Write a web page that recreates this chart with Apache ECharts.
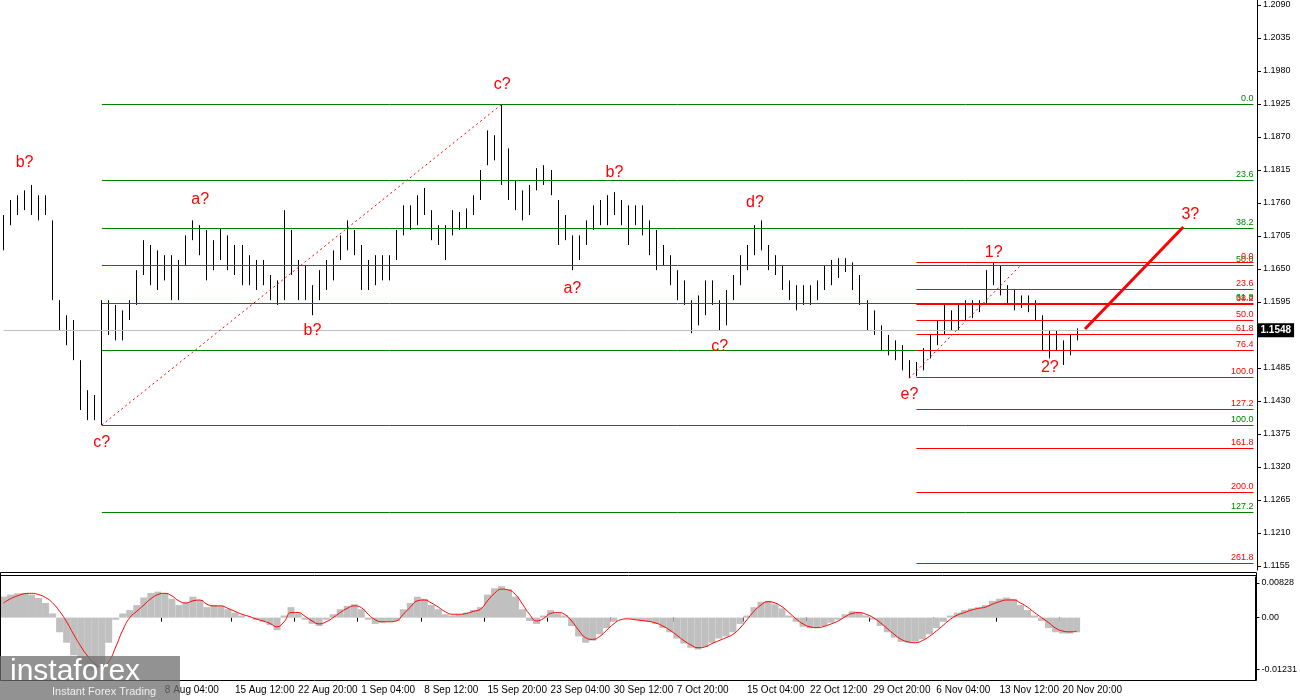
<!DOCTYPE html>
<html>
<head>
<meta charset="utf-8">
<script src="https://cdn.jsdelivr.net/npm/echarts@6/dist/echarts.min.js"></script>
<style>html,body{margin:0;padding:0;background:#fff}#chart{width:1300px;height:700px}</style>
</head>
<body>
<div id="chart"></div>
<script>
"use strict";

/*****Data start*****/
var highs = [1.1740,1.1765,1.1773,1.1781,1.1790,1.1773,1.1773,1.1731,1.1598,1.1573,
	1.1565,1.1498,1.1448,1.1440,1.1598,1.1598,1.1590,1.1581,1.1598,1.1648,
	1.1698,1.1690,1.1681,1.1673,1.1673,1.1665,1.1706,1.1731,1.1723,1.1715,
	1.1698,1.1718,1.1706,1.1690,1.1690,1.1673,1.1665,1.1665,1.1640,1.1631,
	1.1748,1.1715,1.1665,1.1656,1.1623,1.1648,1.1665,1.1681,1.1706,1.1731,
	1.1715,1.1690,1.1665,1.1673,1.1673,1.1673,1.1715,1.1756,1.1756,1.1773,
	1.1785,1.1748,1.1723,1.1723,1.1748,1.1745,1.1751,1.1773,1.1815,1.1881,
	1.1873,1.1925,1.1851,1.1798,1.1781,1.1790,1.1818,1.1823,1.1815,1.1765,
	1.1740,1.1706,1.1706,1.1731,1.1756,1.1765,1.1773,1.1778,1.1765,1.1756,
	1.1756,1.1756,1.1731,1.1715,1.1690,1.1673,1.1648,1.1631,1.1598,1.1606,
	1.1631,1.1631,1.1598,1.1615,1.1640,1.1673,1.1690,1.1723,1.1731,1.1690,
	1.1673,1.1656,1.1631,1.1623,1.1623,1.1623,1.1631,1.1656,1.1665,1.1668,
	1.1668,1.1661,1.1640,1.1598,1.1581,1.1556,1.1540,1.1531,1.1523,1.1498,
	1.1495,1.1518,1.1540,1.1565,1.1590,1.1581,1.1590,1.1598,1.1598,1.1598,
	1.1648,1.1660,1.1656,1.1623,1.1615,1.1606,1.1606,1.1598,1.1573,1.1548,
	1.1548,1.1531,1.1540,1.1551];
var lows = [1.1681,1.1723,1.1740,1.1748,1.1740,1.1731,1.1740,1.1598,1.1548,1.1523,
	1.1498,1.1415,1.1398,1.1398,1.1390,1.1540,1.1531,1.1531,1.1565,1.1590,
	1.1640,1.1623,1.1615,1.1631,1.1598,1.1598,1.1656,1.1698,1.1673,1.1631,
	1.1648,1.1665,1.1648,1.1640,1.1623,1.1623,1.1615,1.1623,1.1598,1.1590,
	1.1598,1.1640,1.1598,1.1598,1.1573,1.1598,1.1615,1.1631,1.1665,1.1681,
	1.1673,1.1615,1.1615,1.1623,1.1631,1.1631,1.1665,1.1706,1.1715,1.1723,
	1.1740,1.1698,1.1690,1.1665,1.1706,1.1715,1.1718,1.1740,1.1765,1.1823,
	1.1831,1.1790,1.1765,1.1748,1.1731,1.1740,1.1781,1.1790,1.1773,1.1690,
	1.1698,1.1648,1.1665,1.1690,1.1715,1.1723,1.1723,1.1740,1.1723,1.1690,
	1.1723,1.1706,1.1673,1.1648,1.1656,1.1623,1.1598,1.1590,1.1543,1.1556,
	1.1573,1.1590,1.1548,1.1556,1.1598,1.1623,1.1648,1.1673,1.1681,1.1648,
	1.1640,1.1615,1.1598,1.1581,1.1590,1.1590,1.1598,1.1615,1.1623,1.1635,
	1.1645,1.1615,1.1590,1.1548,1.1540,1.1515,1.1506,1.1498,1.1481,1.1468,
	1.1471,1.1481,1.1501,1.1523,1.1540,1.1548,1.1548,1.1565,1.1568,1.1578,
	1.1590,1.1623,1.1606,1.1590,1.1581,1.1585,1.1578,1.1565,1.1515,1.1501,
	1.1515,1.1490,1.1506,1.1531];
var closes = [1.1700,1.1750,1.1760,1.1770,1.1755,1.1760,1.1750,1.1610,1.1560,1.1540,
	1.1505,1.1425,1.1420,1.1410,1.1580,1.1570,1.1560,1.1575,1.1590,1.1640,
	1.1680,1.1650,1.1660,1.1660,1.1620,1.1650,1.1690,1.1715,1.1700,1.1650,
	1.1680,1.1700,1.1665,1.1670,1.1640,1.1655,1.1630,1.1640,1.1610,1.1600,
	1.1700,1.1660,1.1640,1.1610,1.1600,1.1630,1.1645,1.1670,1.1690,1.1710,
	1.1695,1.1640,1.1630,1.1650,1.1645,1.1660,1.1700,1.1740,1.1730,1.1760,
	1.1750,1.1715,1.1705,1.1700,1.1735,1.1730,1.1740,1.1760,1.1800,1.1860,
	1.1845,1.1810,1.1790,1.1760,1.1750,1.1770,1.1805,1.1800,1.1780,1.1710,
	1.1715,1.1670,1.1690,1.1720,1.1740,1.1745,1.1760,1.1755,1.1745,1.1730,
	1.1740,1.1725,1.1690,1.1660,1.1670,1.1640,1.1610,1.1600,1.1560,1.1590,
	1.1610,1.1600,1.1570,1.1600,1.1630,1.1660,1.1680,1.1710,1.1690,1.1665,
	1.1650,1.1630,1.1610,1.1600,1.1610,1.1615,1.1620,1.1645,1.1650,1.1660,
	1.1655,1.1630,1.1600,1.1560,1.1550,1.1525,1.1520,1.1510,1.1490,1.1480,
	1.1485,1.1505,1.1530,1.1550,1.1570,1.1565,1.1575,1.1580,1.1590,1.1590,
	1.1635,1.1640,1.1620,1.1600,1.1595,1.1600,1.1590,1.1575,1.1525,1.1530,
	1.1530,1.1510,1.1530,1.1548];
var histValues = [0.0050,0.0055,0.0058,0.0059,0.0055,0.0047,0.0035,0.0010,-0.0035,-0.0060,
	-0.0090,-0.0110,-0.0124,-0.0126,-0.0112,-0.0060,-0.0005,0.0010,0.0018,0.0030,
	0.0048,0.0059,0.0062,0.0058,0.0045,0.0030,0.0035,0.0050,0.0042,0.0025,
	0.0030,0.0028,0.0020,0.0012,0.0005,0.0000,-0.0005,-0.0010,-0.0018,-0.0030,
	0.0005,0.0025,0.0010,-0.0005,-0.0015,-0.0020,-0.0005,0.0008,0.0020,0.0028,
	0.0032,0.0020,-0.0005,-0.0015,-0.0012,-0.0010,-0.0008,0.0020,0.0035,0.0050,
	0.0045,0.0030,0.0020,0.0008,0.0005,0.0008,0.0012,0.0018,0.0025,0.0055,
	0.0070,0.0075,0.0068,0.0050,0.0020,-0.0008,-0.0015,0.0005,0.0018,0.0010,
	0.0005,-0.0020,-0.0045,-0.0060,-0.0055,-0.0040,-0.0025,-0.0010,0.0000,-0.0002,
	-0.0005,-0.0008,-0.0010,-0.0015,-0.0025,-0.0035,-0.0050,-0.0062,-0.0072,-0.0076,
	-0.0070,-0.0060,-0.0050,-0.0045,-0.0035,-0.0015,0.0005,0.0025,0.0038,0.0040,
	0.0032,0.0022,0.0005,-0.0010,-0.0022,-0.0025,-0.0024,-0.0020,-0.0012,-0.0005,
	0.0008,0.0015,0.0012,0.0005,-0.0005,-0.0020,-0.0035,-0.0048,-0.0058,-0.0060,
	-0.0058,-0.0052,-0.0040,-0.0025,-0.0010,0.0005,0.0012,0.0018,0.0022,0.0025,
	0.0030,0.0040,0.0045,0.0048,0.0045,0.0030,0.0018,0.0005,-0.0008,-0.0025,
	-0.0035,-0.0038,-0.0038,-0.0035];
var signalValues = [0.0035,0.0045,0.0052,0.0057,0.0058,0.0055,0.0048,0.0035,0.0015,-0.0010,
	-0.0040,-0.0068,-0.0092,-0.0110,-0.0118,-0.0105,-0.0070,-0.0030,0.0000,0.0015,
	0.0030,0.0045,0.0055,0.0058,0.0052,0.0040,0.0035,0.0040,0.0042,0.0032,
	0.0028,0.0028,0.0022,0.0015,0.0008,0.0003,-0.0003,-0.0008,-0.0014,-0.0022,
	-0.0010,0.0012,0.0012,0.0003,-0.0008,-0.0015,-0.0010,0.0000,0.0012,0.0022,
	0.0028,0.0024,0.0008,-0.0005,-0.0010,-0.0010,-0.0008,0.0008,0.0025,0.0040,
	0.0042,0.0035,0.0025,0.0014,0.0008,0.0008,0.0010,0.0015,0.0020,0.0040,
	0.0058,0.0068,0.0066,0.0055,0.0032,0.0008,-0.0008,-0.0002,0.0010,0.0012,
	0.0008,-0.0008,-0.0030,-0.0048,-0.0052,-0.0045,-0.0030,-0.0015,-0.0005,-0.0003,
	-0.0005,-0.0007,-0.0009,-0.0013,-0.0020,-0.0030,-0.0042,-0.0055,-0.0065,-0.0072,
	-0.0070,-0.0062,-0.0055,-0.0048,-0.0040,-0.0025,-0.0005,0.0015,0.0030,0.0038,
	0.0035,0.0026,0.0012,-0.0003,-0.0015,-0.0022,-0.0024,-0.0021,-0.0015,-0.0008,
	0.0002,0.0010,0.0012,0.0008,0.0000,-0.0012,-0.0026,-0.0040,-0.0052,-0.0058,
	-0.0060,-0.0055,-0.0045,-0.0032,-0.0018,-0.0004,0.0006,0.0012,0.0018,0.0022,
	0.0025,0.0032,0.0038,0.0042,0.0042,0.0035,0.0025,0.0012,0.0000,-0.0012,
	-0.0025,-0.0032,-0.0034,-0.0033];
var timeLabels = [[23,'8 Aug 04:00'],[33,'15 Aug 12:00'],[42,'22 Aug 20:00'],[51,'1 Sep 04:00'],
	[60,'8 Sep 12:00'],[69,'15 Sep 20:00'],[78,'23 Sep 04:00'],[87,'30 Sep 12:00'],
	[96,'7 Oct 20:00'],[106,'15 Oct 04:00'],[115,'22 Oct 12:00'],[124,'29 Oct 20:00'],
	[133,'6 Nov 04:00'],[142,'13 Nov 12:00'],[151,'20 Nov 20:00']];
var priceTicks = [1.2090,1.2035,1.1980,1.1925,1.1870,1.1815,1.1760,1.1705,1.1650,1.1595,
	1.1540,1.1485,1.1430,1.1375,1.1320,1.1265,1.1210,1.1155];
var oscTicks = [0.00828, 0, -0.01231];
var lastPrice = 1.1548;
// big correction grid: level name, price
var greenLevels = [['0.0',1.1925],['23.6',1.1798],['38.2',1.1718],['50.0',1.1656],
	['61.8',1.1593],['',1.1515],['100.0',1.1390],['127.2',1.1245]];
// small grid from e? low
var redLevels = [['0.0',1.1661],['23.6',1.1616],['38.2',1.1591],['50.0',1.1565],['61.8',1.1541],
	['76.4',1.1515],['100.0',1.1470],['127.2',1.1416],['161.8',1.1351],['200.0',1.1278],['261.8',1.1160]];
var waveLabels = [['b?',3,1.1828],['c?',14,1.1360],['a?',28,1.1765],['b?',44,1.1548],
	['c?',71,1.1958],['a?',81,1.1618],['b?',87,1.1810],['c?',102,1.1520],['d?',107,1.1761],
	['e?',129,1.1440],['1?',141,1.1678],['2?',149,1.1485],['3?',169,1.1740]];
var totalSlots = 179;
/*****Data end*****/

var cats = [], i;
for (i = 0; i < totalSlots; i++) cats.push('');
timeLabels.forEach(function (t) { cats[t[0]] = t[1]; });

var ohlc = [];
for (i = 0; i < closes.length; i++) {
	var open = i === 0 ? closes[0] : closes[i - 1];
	ohlc.push([open, closes[i], lows[i], highs[i]]);
}

var last = totalSlots - 1;
var lines = [];
// current price line first, so the fib lines draw over it
lines.push([{coord: [0, lastPrice], lineStyle: {color: '#c0c0c0', width: 1, type: 'solid'},
	label: {show: true, position: 'end', formatter: lastPrice.toFixed(4), color: '#fff', backgroundColor: '#000',
		padding: [2, 3], fontSize: 10, fontWeight: 'bold', distance: 4}},
	{coord: [last, lastPrice]}]);
greenLevels.forEach(function (l) {
	lines.push([{coord: [14, l[1]], lineStyle: {color: '#008000', width: 1, type: 'solid'},
		label: {show: !!l[0], formatter: l[0], position: 'insideEndTop', color: '#008000', fontSize: 9, distance: [0, 1]}},
		{coord: [last, l[1]]}]);
});
redLevels.forEach(function (l) {
	lines.push([{coord: [130, l[1]], lineStyle: {color: '#ff0000', width: 1, type: 'solid'},
		label: {show: true, formatter: l[0], position: 'insideEndTop', color: '#ff0000', fontSize: 9, distance: [0, 1]}},
		{coord: [last, l[1]]}]);
});
lines.push([{coord: [14, 1.1390], lineStyle: {color: '#ff0000', width: 1, type: [2, 3]}, label: {show: false}}, {coord: [71, 1.1925]}]);
lines.push([{coord: [129, 1.1468], lineStyle: {color: '#ff0000', width: 1, type: [2, 3]}, label: {show: false}}, {coord: [145, 1.1658]}]);
lines.push([{coord: [154, 1.1550], lineStyle: {color: '#ff0000', width: 3, type: 'solid'}, label: {show: false}}, {coord: [168, 1.1720]}]);

var chart = echarts.init(document.getElementById('chart'));
var option = {
	animation: false,
	backgroundColor: '#ffffff',
	textStyle: {fontFamily: "'Liberation Sans', Arial, sans-serif"},
	grid: [
		{left: 0, right: 43, top: 0, height: 570},
		{left: 0, right: 43, top: 577, height: 103}
	],
	xAxis: [
		{type: 'category', gridIndex: 0, data: cats, axisLine: {show: false}, axisTick: {show: false}, axisLabel: {show: false}},
		{type: 'category', gridIndex: 1, data: cats, axisLine: {show: false},
			axisTick: {show: true, inside: false, length: 4, lineStyle: {color: '#000'}, interval: function (idx, v) { return v !== ''; }},
			axisLabel: {interval: function (idx, v) { return v !== ''; }, align: 'left', fontSize: 10, color: '#000', margin: 5}}
	],
	yAxis: [
		{type: 'value', gridIndex: 0, position: 'right', min: 1.11483, max: 1.20983, scale: true,
			splitLine: {show: false}, axisLine: {show: true, lineStyle: {color: '#000'}},
			axisTick: {show: true, length: 4, customValues: priceTicks, lineStyle: {color: '#000'}},
			axisLabel: {customValues: priceTicks, fontSize: 9, color: '#000', margin: 6,
				formatter: function (v) { return v.toFixed(4); }}},
		{type: 'value', gridIndex: 1, position: 'right', min: -0.0149, max: 0.0097,
			splitLine: {show: false}, axisLine: {show: true, lineStyle: {color: '#000'}},
			axisTick: {show: true, length: 4, customValues: oscTicks, lineStyle: {color: '#000'}},
			axisLabel: {customValues: oscTicks, fontSize: 9, color: '#000', margin: 6,
				formatter: function (v) { return v === 0 ? '0.00' : v.toFixed(5); }}}
	],
	graphic: [
		{type: 'rect', shape: {x: 0.5, y: 572.5, width: 1256, height: 108}, style: {fill: 'none', stroke: '#000', lineWidth: 1}, z: 10},
		{type: 'line', shape: {x1: 0, y1: 575.5, x2: 1257, y2: 575.5}, style: {stroke: '#000', lineWidth: 1}, z: 10},
		{type: 'rect', shape: {x: 0, y: 656, width: 180, height: 44}, style: {fill: 'rgba(110,110,110,0.75)'}, z: 20},
		{type: 'text', left: 10, top: 657, style: {text: 'instaforex', fill: '#fff', font: '30px "Liberation Sans", Arial'}, z: 21},
		{type: 'text', left: 52, top: 686, style: {text: 'Instant Forex Trading', fill: '#eee', font: '11px "Liberation Sans", Arial'}, z: 21}
	],
	series: [
		{type: 'candlestick', xAxisIndex: 0, yAxisIndex: 0, data: ohlc, barWidth: 1,
			itemStyle: {color: '#000', color0: '#000', borderColor: '#000', borderColor0: '#000', borderWidth: 1},
			markLine: {symbol: 'none', silent: true, data: lines},
			markPoint: {symbol: 'circle', symbolSize: 0, silent: true,
				label: {show: true, color: '#ff0000', fontSize: 16, formatter: '{b}'},
				data: waveLabels.map(function (w) { return {name: w[0], coord: [w[1], w[2]]}; })}
		},
		{type: 'bar', xAxisIndex: 1, yAxisIndex: 1, data: histValues, barWidth: '100%', barGap: '-100%',
			itemStyle: {color: '#c0c0c0'}},
		{type: 'line', xAxisIndex: 1, yAxisIndex: 1, data: signalValues, symbol: 'none', smooth: true,
			lineStyle: {color: '#ff0000', width: 1}}
	]
};
chart.setOption(option);
</script>
</body>
</html>
